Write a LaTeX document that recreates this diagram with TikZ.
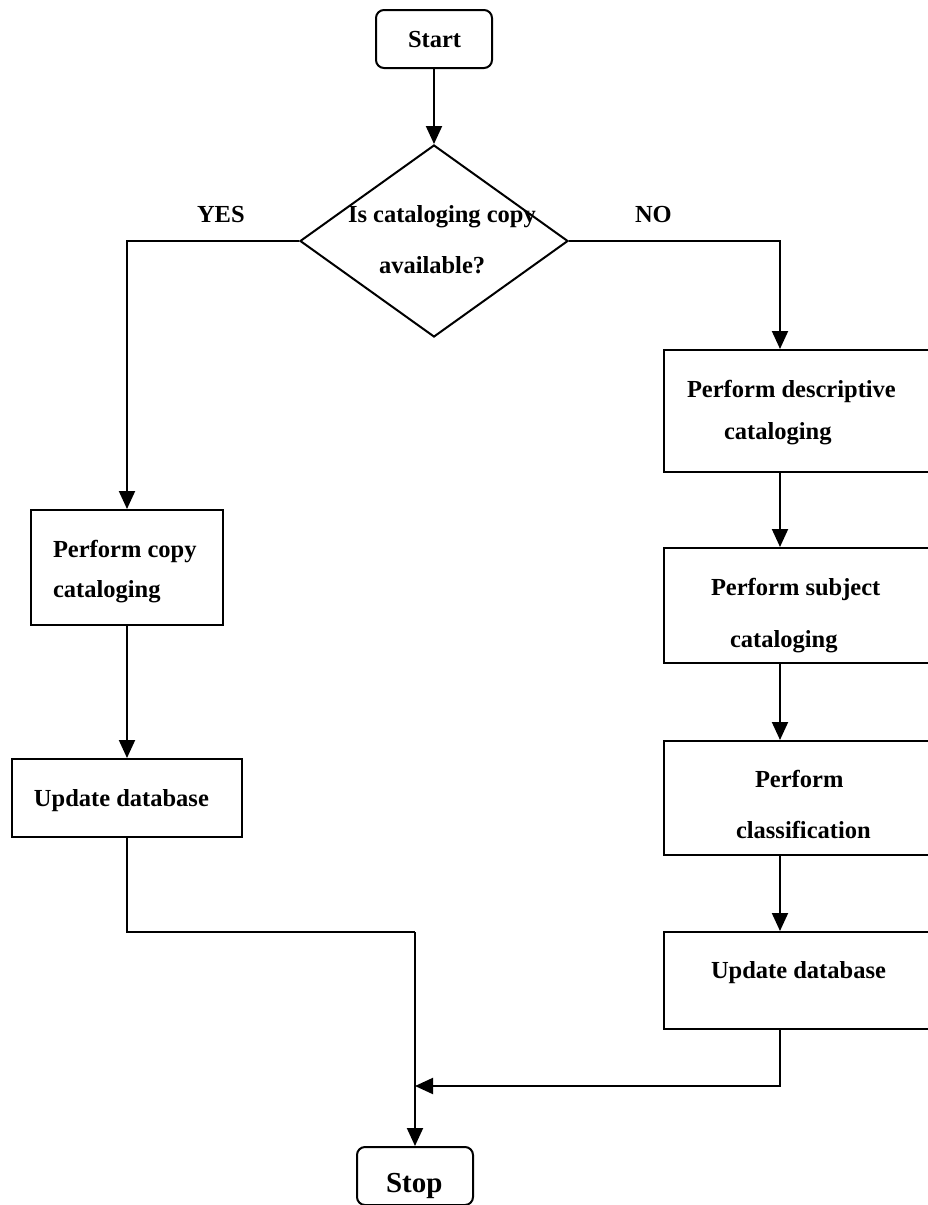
\documentclass[tikz,border=0pt]{standalone}
\usepackage{fontspec}
\setmainfont{Liberation Serif}
\usetikzlibrary{arrows.meta,shapes.geometric}

\begin{document}
\begin{tikzpicture}[x=1pt,y=-1pt,
  line width=2pt,
  flow/.style={-{Triangle[width=16pt,length=18pt]}},
  terminal/.style={draw,rounded corners=8pt,inner sep=0pt},
  procbox/.style={draw,inner sep=0pt},
  decision/.style={draw,diamond,inner sep=0pt,minimum width=268pt,minimum height=192pt},
  txt/.style={anchor=base west,inner sep=0pt,font=\fontsize{24.5}{29}\selectfont\bfseries},
  bigtxt/.style={anchor=base west,inner sep=0pt,font=\fontsize{29}{34}\selectfont\bfseries}]

\useasboundingbox (0,0) rectangle (927,1205);

% shapes
\node[terminal,minimum width=116pt,minimum height=58pt] (start) at (434,39) {};
\node[decision] (dec) at (434,241) {};
\node[procbox,minimum width=192pt,minimum height=115pt] (copy) at (127,567.5) {};
\node[procbox,minimum width=230pt,minimum height=78pt] (updl) at (127,798) {};
\node[procbox,minimum width=266pt,minimum height=122pt] (desc) at (797,411) {};
\node[procbox,minimum width=266pt,minimum height=115pt] (subj) at (797,605.5) {};
\node[procbox,minimum width=266pt,minimum height=114pt] (clas) at (797,798) {};
\node[procbox,minimum width=266pt,minimum height=97pt] (updr) at (797,980.5) {};
\node[terminal,minimum width=116pt,minimum height=58pt] (stop) at (415,1176) {};

% texts
\node[txt] (tstart) at (407,47) {Start};
\node[txt] (tdec1) at (347,222) {Is cataloging copy};
\node[txt] (tdec2) at (378,273) {available?};
\node[txt] (tyes) at (196,222) {YES};
\node[txt] (tno) at (634,222) {NO};
\node[txt] (tcopy1) at (52,557) {Perform copy};
\node[txt] (tcopy2) at (52,597) {cataloging};
\node[txt] (tupdl) at (33,806) {Update database};
\node[txt] (tdesc1) at (686,397) {Perform descriptive};
\node[txt] (tdesc2) at (723,439) {cataloging};
\node[txt] (tsubj1) at (710,595) {Perform subject};
\node[txt] (tsubj2) at (729,647) {cataloging};
\node[txt] (tclas1) at (754,787) {Perform};
\node[txt] (tclas2) at (735,838) {classification};
\node[txt] (tupdr) at (710,978) {Update database};
\node[bigtxt] (tstop) at (385,1192) {Stop};

% routing points
\coordinate (rx) at (780,0);
\coordinate (lbend) at (127,932);
\coordinate (rbend) at (780,1086);
\coordinate (join) at (415,1086);

% connectors
\draw[flow] (start.south) -- (dec.north);
\draw[flow] (dec.west) -| (copy.north);
\draw[flow] (copy.south) -- (updl.north);
\draw[flow] (dec.east) -| (desc.north -| rx);
\draw[flow] (desc.south -| rx) -- (subj.north -| rx);
\draw[flow] (subj.south -| rx) -- (clas.north -| rx);
\draw[flow] (clas.south -| rx) -- (updr.north -| rx);
\draw (updl.south) -- (lbend) -| (stop.north |- lbend);
\draw[flow] (stop.north |- lbend) -- (stop.north);
\draw[flow] (updr.south -| rx) -- (rbend) -- (join);
\end{tikzpicture}
\end{document}
